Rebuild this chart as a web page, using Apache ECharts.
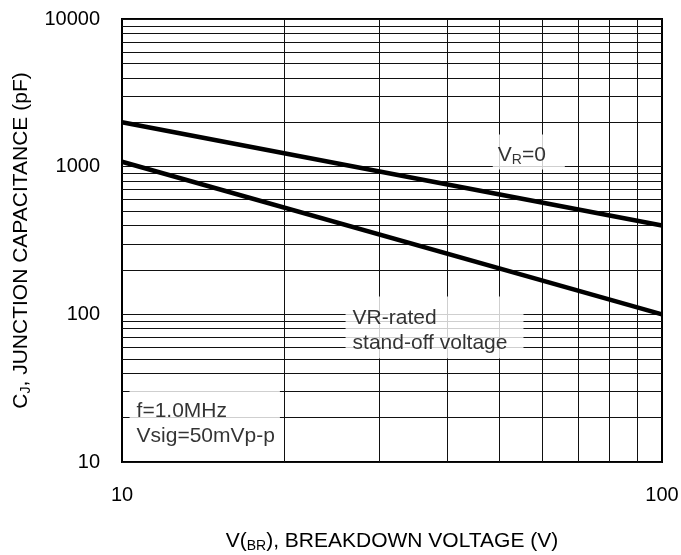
<!DOCTYPE html>
<html><head><meta charset="utf-8">
<script src="https://cdn.jsdelivr.net/npm/echarts@6/dist/echarts.min.js"></script>
<style>html,body{margin:0;padding:0;background:#fff}#c{width:681px;height:555px}</style>
</head><body><div id="c"></div>
<script>
// ---- data ----
const breakdownVoltage = [10, 100];
const cjVR0 = [2000, 400];
const cjRated = [1080, 100];
const xGridValues = [20, 30, 40, 50, 60, 70, 80, 90];
const yGridValues = [20, 30, 40, 50, 60, 70, 80, 90, 100,
  200, 300, 400, 500, 600, 700, 800, 900, 1000,
  2000, 3000, 4000, 5000, 6000, 7000, 8000, 9000];
const xTickLabels = [10, 100];
const yTickLabels = [10, 100, 1000, 10000];
// annotation anchors (data coords of box top-left)
const noteVR0 = [48.7, 1640];
const noteRated = [26.0, 131];
const noteCond = [10.35, 35.2];

const FONT = '"Liberation Sans", Arial, sans-serif';
const chart = echarts.init(document.getElementById('c'), null, {renderer: 'canvas'});

const richBase = {
  n: {fontSize: 21, fontFamily: FONT, color: '#000', lineHeight: 24},
  s: {fontSize: 14, fontFamily: FONT, color: '#000', lineHeight: 10, verticalAlign: 'bottom'}
};

function line(data, name) {
  return {
    type: 'line', name, z: 3, silent: true, symbol: 'none', animation: false,
    lineStyle: {color: '#000', width: 4.5},
    data: breakdownVoltage.map((x, i) => [x, data[i]])
  };
}

const markData = yGridValues.map(v => ({yAxis: v})).concat(xGridValues.map(v => ({xAxis: v})));

function note(pos, formatter, padding, lineHeight) {
  return {
    value: pos,
    label: {
      show: true, position: [0, 0], align: 'left', verticalAlign: 'top',
      backgroundColor: '#fff', padding, formatter,
      fontSize: 21, fontFamily: FONT, color: '#000', lineHeight, textBorderWidth: 0,
      rich: {
        n: {fontSize: 21, fontFamily: FONT, color: '#000', lineHeight: 24},
        s: {fontSize: 14, fontFamily: FONT, color: '#000', lineHeight: 10, verticalAlign: 'bottom'}
      }
    }
  };
}

chart.setOption({
  animation: false,
  backgroundColor: '#fff',
  grid: {left: 122, right: 19, top: 19, bottom: 93, show: true, borderColor: '#000', borderWidth: 2,
    backgroundColor: 'transparent', containLabel: false, outerBoundsMode: 'none'},
  xAxis: {
    type: 'log', logBase: 10, min: 10, max: 100,
    name: '{n|V(}{s|BR}{n|), BREAKDOWN VOLTAGE (V)}',
    nameLocation: 'middle', nameGap: 67,
    nameTextStyle: {rich: richBase},
    axisLine: {show: false}, axisTick: {show: false},
    splitLine: {show: false},
    axisLabel: {
      margin: 23, fontSize: 20, fontFamily: FONT, color: '#000',
      formatter: v => xTickLabels.includes(Math.round(v)) ? String(Math.round(v)) : ''
    }
  },
  yAxis: {
    type: 'log', logBase: 10, min: 10, max: 10000,
    name: '{n|C}{s|J}{n|, JUNCTION CAPACITANCE (pF)}',
    nameLocation: 'middle', nameGap: 87, nameRotate: 90,
    nameTextStyle: {rich: richBase},
    axisLine: {show: false}, axisTick: {show: false},
    splitLine: {show: true, lineStyle: {color: '#111', width: 1}},
    axisLabel: {
      margin: 22, fontSize: 20, fontFamily: FONT, color: '#000',
      formatter: v => yTickLabels.includes(Math.round(v)) ? String(Math.round(v)) : ''
    }
  },
  series: [
    {
      type: 'line', z: 1, silent: true, data: [], animation: false,
      markLine: {
        z: 1, silent: true, animation: false, symbol: ['none', 'none'],
        label: {show: false}, emphasis: {disabled: true},
        lineStyle: {color: '#111', width: 1, type: 'solid'},
        data: markData
      }
    },
    line(cjVR0, 'VR=0'),
    line(cjRated, 'VR-rated'),
    {
      type: 'scatter', z: 10, silent: true, animation: false,
      symbol: 'rect', symbolSize: 1, itemStyle: {color: 'rgba(0,0,0,0)'},
      emphasis: {disabled: true},
      data: [
        note(noteVR0, '{n|V}{s|R}{n|=0}', [9, 19, 2, 5], 24),
        note(noteRated, 'VR-rated\nstand-off voltage', [9, 16, 3, 7], 25),
        note(noteCond, 'f=1.0MHz\nVsig=50mVp-p', [18, 5, 8, 7], 25)
      ]
    }
  ]
});
</script></body></html>
